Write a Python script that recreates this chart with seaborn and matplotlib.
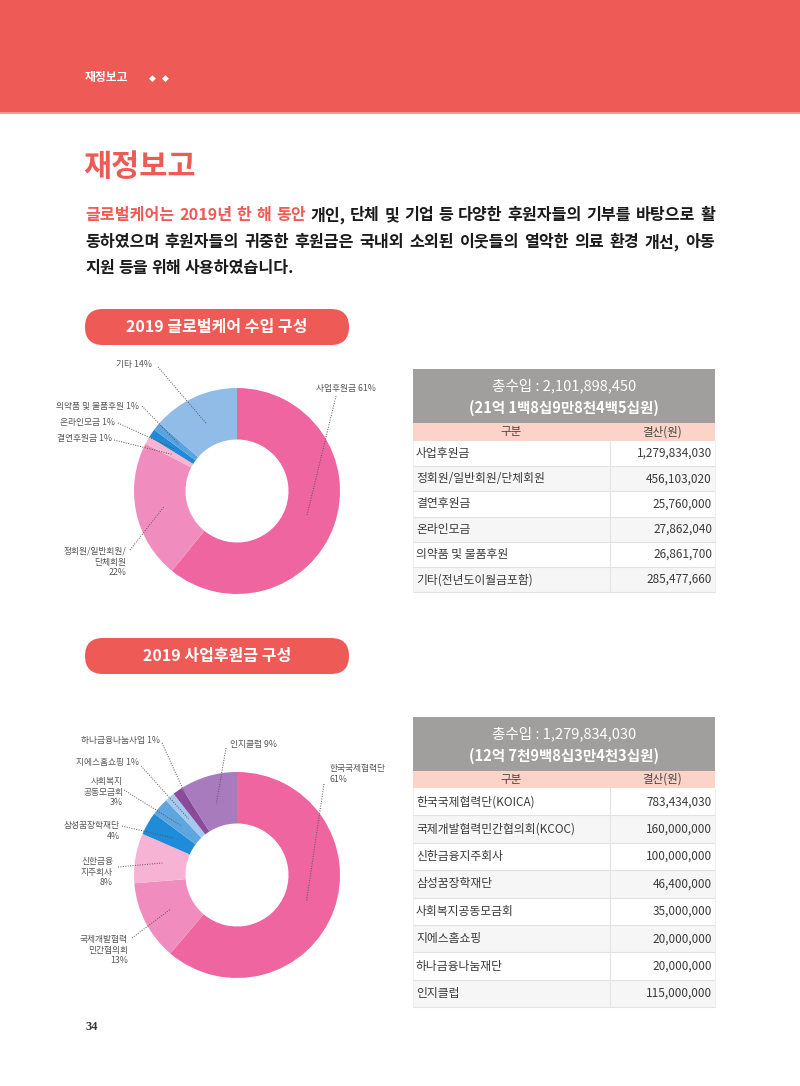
import numpy as np
import matplotlib
matplotlib.use("Agg")
import matplotlib.pyplot as plt
from matplotlib.patches import Rectangle, FancyBboxPatch
import seaborn as sns

# --- data ---
income_table_names = ['사업후원금', '정회원/일반회원/단체회원', '결연후원금', '온라인모금',
                      '의약품 및 물품후원', '기타(전년도이월금포함)']
income_values = [1279834030, 456103020, 25760000, 27862040, 26861700, 285477660]
income_pie_names = ['사업후원금 ', '정회원/일반회원/\n단체회원\n', '결연후원금 ', '온라인모금 ',
                    '의약품 및 물품후원 ', '기타 ']
income_pct = [61, 22, 1, 1, 1, 14]
income_total = '총수입 : 2,101,898,450'
income_total_kr = '(21억 1백8십9만8천4백5십원)'

support_table_names = ['한국국제협력단(KOICA)', '국제개발협력민간협의회(KCOC)', '신한금융지주회사',
                       '삼성꿈장학재단', '사회복지공동모금회', '지에스홈쇼핑', '하나금융나눔재단', '인지클럽']
support_values = [783434030, 160000000, 100000000, 46400000, 35000000, 20000000, 20000000, 115000000]
support_pie_names = ['한국국제협력단\n', '국제개발협력\n민간협의회\n', '신한금융\n지주회사\n', '삼성꿈장학재단\n',
                     '사회복지\n공동모금회\n', '지에스홈쇼핑 ', '하나금융나눔사업 ', '인지클럽 ']
support_pct = [61, 13, 8, 4, 3, 1, 1, 9]
support_total = '총수입 : 1,279,834,030'
support_total_kr = '(12억 7천9백8십3만4천3십원)'

para_lines = ['글로벌케어는 2019년 한 해 동안 개인, 단체 및 기업 등 다양한 후원자들의 기부를 바탕으로 활',
              '동하였으며 후원자들의 귀중한 후원금은 국내외 소외된 이웃들의 열악한 의료 환경 개선, 아동',
              '지원 등을 위해 사용하였습니다.']
para_red_words = 5  # first words of line 1 shown in red

# --- style ---
RED = '#EE5B56'
income_colors = ['#EE65A0', '#F18DBE', '#F7B5D2', '#1F8AD6', '#5BA3E0', '#92BCE8']
support_colors = ['#EE65A0', '#F18DBE', '#F7B3D3', '#1E8CD8', '#5FA5E0', '#A3CAEE', '#8C4A9C', '#A77BBE']

sns.set_theme(style="white")
plt.rcParams['font.family'] = ['Noto Sans CJK KR', 'DejaVu Sans']

fig = plt.figure(figsize=(8, 10.86), dpi=100)
fig.patch.set_facecolor('white')

# full page axes in pixel coordinates
bg = fig.add_axes([0, 0, 1, 1])
bg.set_xlim(0, 800)
bg.set_ylim(1086, 0)
bg.axis('off')
bg.set_zorder(2)
renderer = fig.canvas.get_renderer()

# --- header band ---
bg.add_patch(Rectangle((0, 0), 800, 112, color=RED, lw=0))
bg.add_patch(Rectangle((0, 112), 800, 2, color='#F39A96', lw=0))
bg.text(85, 78, '재정보고', color='white', fontsize=8.5, fontweight='bold', va='center')
bg.text(149, 78, '◆', color='white', fontsize=6.5, va='center', family=['DejaVu Sans'])
bg.text(162, 78, '◆', color='white', fontsize=6.5, va='center', family=['DejaVu Sans'])

# --- title and paragraph ---
bg.text(83, 167, '재정보고', color=RED, fontsize=22, fontweight='black', va='center')


def justified(line, y, x0, x1, fs, justify, red_n=0):
    words = line.split(' ')
    texts = []
    for i, w in enumerate(words):
        c = RED if i < red_n else '#1a1a1a'
        texts.append(bg.text(0, y, w, color=c, fontsize=fs, fontweight='bold', va='center'))
    widths = [t.get_window_extent(renderer).width for t in texts]
    a = bg.text(0, y, '가 가', fontsize=fs, fontweight='bold')
    b = bg.text(0, y, '가가', fontsize=fs, fontweight='bold')
    gap = a.get_window_extent(renderer).width - b.get_window_extent(renderer).width
    a.remove()
    b.remove()
    if justify:
        gap = (x1 - x0 - sum(widths)) / (len(words) - 1)
    x = x0
    for t, wd in zip(texts, widths):
        t.set_x(x)
        x += wd + gap


fig.canvas.draw()
justified(para_lines[0], 215, 85, 715, 11.6, True, para_red_words)
justified(para_lines[1], 242, 85, 715, 11.6, True)
justified(para_lines[2], 268, 85, 715, 11.6, False)


def pill(y, label):
    bg.add_patch(FancyBboxPatch((85, y), 264, 36, boxstyle="round,pad=0,rounding_size=18",
                                fc=RED, ec='none'))
    bg.text(217, y + 18, label, color='white', fontsize=11.5, fontweight='bold',
            ha='center', va='center')


pill(309, '2019 글로벌케어 수입 구성')
pill(638, '2019 사업후원금 구성')


def donut(cx, cy, r, values, colors, names, pcts, label_pos, starts):
    ax = fig.add_axes([(cx - r) / 800, 1 - (cy + r) / 1086, 2 * r / 800, 2 * r / 1086])
    ax.set_zorder(1)
    wedges, _ = ax.pie(values, colors=colors, startangle=90, counterclock=False, radius=1,
                       wedgeprops=dict(width=0.5, edgecolor='none', linewidth=0))
    ax.set_xlim(-1, 1)
    ax.set_ylim(-1, 1)
    ax.axis('off')
    for w, name, p, (tx, ty, ha), (sx, sy) in zip(wedges, names, pcts, label_pos, starts):
        mid = np.deg2rad((w.theta1 + w.theta2) / 2)
        ex = cx + 0.72 * r * np.cos(mid)
        ey = cy - 0.72 * r * np.sin(mid)
        bg.plot([sx, ex], [sy, ey], ls=(0, (1, 1.5)), color='#555555', lw=0.7)
        bg.text(tx, ty, f'{name}{p}%', fontsize=6.3, color='#555555', ha=ha, va='center',
                linespacing=1.25, multialignment=ha)


# label anchor positions (layout)
income_label_pos = [(316, 388, 'left'), (126, 562, 'right'), (112, 439, 'right'),
                    (115, 422, 'right'), (139, 406, 'right'), (152, 364, 'right')]
income_starts = [(336, 396), (130, 550), (114, 440), (118, 423), (142, 406), (158, 367)]
donut(237, 491, 103, income_values, income_colors, income_pie_names, income_pct,
      income_label_pos, income_starts)

support_label_pos = [(330, 774, 'left'), (128, 950, 'right'), (113, 872, 'right'),
                     (120, 831, 'right'), (123, 792, 'right'), (139, 763, 'right'),
                     (160, 741, 'right'), (230, 745, 'left')]
support_starts = [(324, 784), (132, 938), (118, 867), (122, 826), (124, 790), (141, 766),
                  (162, 743), (226, 748)]
donut(237, 875, 103, support_values, support_colors, support_pie_names, support_pct,
      support_label_pos, support_starts)


# --- tables ---
def table(top, head_h, sub_h, row_h, names, values, total, total_kr):
    x0, x1, xdiv = 413, 715, 610
    bg.add_patch(Rectangle((x0, top), x1 - x0, head_h, color='#A09F9D', lw=0))
    bg.text((x0 + x1) / 2, top + head_h * 0.32, total, color='white', fontsize=10.5,
            ha='center', va='center')
    bg.text((x0 + x1) / 2, top + head_h * 0.72, total_kr, color='white', fontsize=10.5,
            fontweight='bold', ha='center', va='center')
    y = top + head_h
    bg.add_patch(Rectangle((x0, y), x1 - x0, sub_h, color='#FCD3C8', lw=0))
    bg.text((x0 + xdiv) / 2, y + sub_h / 2, '구분', fontsize=8.3, color='#444444',
            ha='center', va='center')
    bg.text((xdiv + x1) / 2, y + sub_h / 2, '결산(원)', fontsize=8.3, color='#444444',
            ha='center', va='center')
    y += sub_h
    for i, (n, v) in enumerate(zip(names, values)):
        fc = '#F6F6F6' if i % 2 == 1 else 'white'
        bg.add_patch(Rectangle((x0, y), x1 - x0, row_h, fc=fc, ec='none'))
        bg.plot([x0, x1], [y + row_h, y + row_h], color='#E2E2E2', lw=0.8)
        bg.text(x0 + 3, y + row_h / 2, n, fontsize=8.5, color='#3a3a3a', va='center')
        bg.text(x1 - 3, y + row_h / 2, f'{v:,}', fontsize=8.5, color='#3a3a3a',
                ha='right', va='center')
        y += row_h
    bg.plot([xdiv, xdiv], [top + head_h + sub_h, y], color='#E2E2E2', lw=0.8)
    bg.plot([x0, x0], [top + head_h + sub_h, y], color='#EDEDED', lw=0.6)
    bg.plot([x1, x1], [top + head_h + sub_h, y], color='#EDEDED', lw=0.6)


table(369, 54, 18, 25.2, income_table_names, income_values, income_total, income_total_kr)
table(717, 54, 17, 27.4, support_table_names, support_values, support_total, support_total_kr)

# page number
bg.text(85, 1027, '34', fontsize=9, fontweight='bold', color='#333333', va='center',
        family=['Liberation Serif'])

fig.savefig('out.png', dpi=100)
